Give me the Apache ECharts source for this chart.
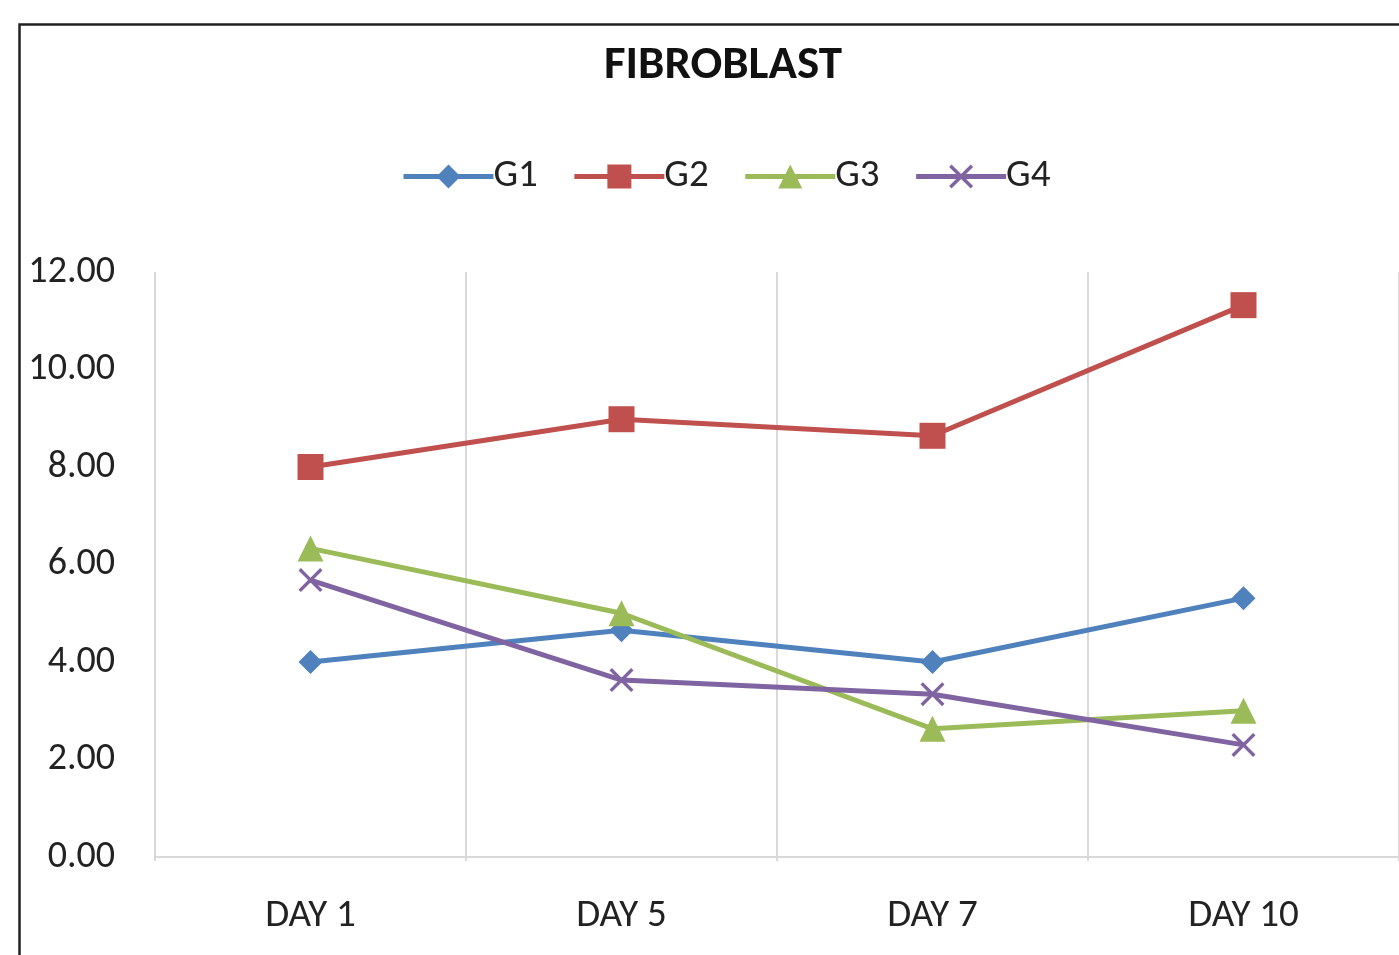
<!DOCTYPE html>
<html><head><meta charset="utf-8">
<script src="https://cdn.jsdelivr.net/npm/echarts@6/dist/echarts.min.js"></script>
<style>html,body{margin:0;padding:0;background:#fff;}#c{width:1399px;height:955px;}</style>
</head><body><div id="c"></div>
<script>
const categories = ['DAY 1', 'DAY 5', 'DAY 7', 'DAY 10'];
const g1 = [4.00, 4.65, 4.00, 5.31];
const g2 = [8.00, 8.98, 8.64, 11.32];
const g3 = [6.33, 5.00, 2.63, 3.00];
const g4 = [5.68, 3.63, 3.34, 2.30];
const seriesNames = ['G1', 'G2', 'G3', 'G4'];
const titleText = 'FIBROBLAST';

const FONT = 'Carlito, Lato, sans-serif';
const xPath = 'path://M0,1L1,0L5,4L9,0L10,1L6,5L10,9L9,10L5,6L1,10L0,9L4,5Z';
const colors = ['#4F81BD', '#C0504D', '#9BBB59', '#8064A2'];
const symbols = ['diamond', 'rect', 'triangle', xPath];
const sizes = [24, 26, 26, 24];
const data = [g1, g2, g3, g4];

const chart = echarts.init(document.getElementById('c'));
chart.setOption({
  animation: false,
  backgroundColor: '#fff',
  graphic: [{
    type: 'rect', left: 17, top: 22, z: -1,
    shape: { width: 1500, height: 1000 },
    style: { fill: 'none', stroke: '#222', lineWidth: 2.5 }
  }],
  title: {
    text: titleText, left: 599, top: 38,
    textStyle: { fontFamily: FONT, fontWeight: 'bold', fontSize: 47, color: '#111' }
  },
  legend: {
    top: 152, left: 396, itemWidth: 90, itemHeight: 30, itemGap: 34,
    lineStyle: { width: 5 },
    textStyle: { fontFamily: FONT, fontSize: 39, color: '#222', padding: [0, 0, 0, -5] },
    data: seriesNames
  },
  grid: { left: 155, right: 0, top: 272, bottom: 98, containLabel: false },
  xAxis: {
    type: 'category', data: categories, boundaryGap: true,
    axisLine: { show: true, lineStyle: { color: '#d9d9d9', width: 2 } },
    axisTick: { show: true, length: 4, lineStyle: { color: '#d9d9d9', width: 2 } },
    axisLabel: { fontFamily: FONT, fontSize: 39, color: '#222', margin: 40 },
    splitLine: { show: true, lineStyle: { color: '#d9d9d9', width: 2 } }
  },
  yAxis: {
    type: 'value', min: 0, max: 12, interval: 2,
    axisLine: { show: false }, axisTick: { show: false },
    axisLabel: { fontFamily: FONT, fontSize: 38, color: '#222', margin: 40,
      formatter: v => v.toFixed(2) },
    splitLine: { show: false }
  },
  series: data.map((d, i) => ({
    name: seriesNames[i], type: 'line', data: d,
    symbol: symbols[i], symbolSize: sizes[i], showAllSymbol: true,
    lineStyle: { color: colors[i], width: 5 },
    itemStyle: { color: colors[i] }
  }))
});
</script></body></html>
